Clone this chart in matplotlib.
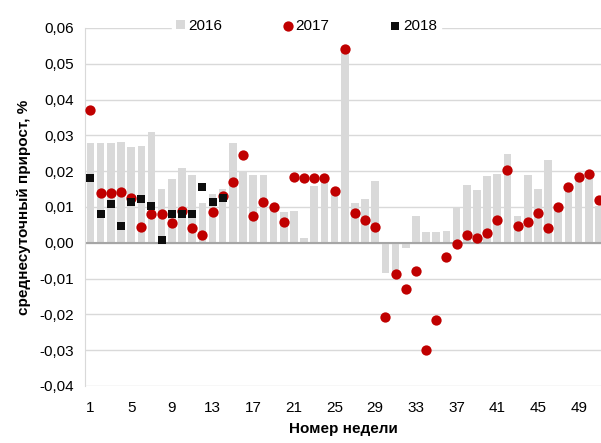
import numpy as np
import matplotlib
matplotlib.use('Agg')
import matplotlib.pyplot as plt

plt.rcParams['font.family'] = ['Liberation Sans', 'DejaVu Sans']

# Weekly average daily growth, %
weeks = np.arange(1, 52)

growth_2016 = [
    0.0280, 0.0280, 0.0280, 0.0281, 0.0267, 0.0269, 0.0309, 0.0150, 0.0179, 0.0208,
    0.0190, 0.0110, 0.0135, 0.0150, 0.0279, 0.0200, 0.0188, 0.0188, 0.0105, 0.0085,
    0.0088, 0.0012, 0.0158, 0.0170, 0.0135, 0.0535, 0.0111, 0.0121, 0.0172, -0.0084,
    -0.0084, -0.0015, 0.0074, 0.0030, 0.0029, 0.0033, 0.0099, 0.0161, 0.0147, 0.0186,
    0.0193, 0.0248, 0.0075, 0.0189, 0.0150, 0.0231, 0.0095, 0.0145, 0.0172, 0.0177,
    0.0102,
]

growth_2017 = [
    0.0370, 0.0140, 0.0138, 0.0143, 0.0125, 0.0045, 0.0081, 0.0081, 0.0055, 0.0088,
    0.0042, 0.0022, 0.0085, 0.0130, 0.0169, 0.0244, 0.0076, 0.0114, 0.0101, 0.0057,
    0.0184, 0.0182, 0.0182, 0.0181, 0.0144, 0.0541, 0.0084, 0.0064, 0.0044, -0.0208,
    -0.0088, -0.0129, -0.0079, -0.0300, -0.0215, -0.0039, -0.0003, 0.0021, 0.0014, 0.0027,
    0.0064, 0.0204, 0.0047, 0.0058, 0.0082, 0.0042, 0.0099, 0.0157, 0.0185, 0.0192,
    0.0120,
]

weeks_2018 = np.arange(1, 15)
growth_2018 = [
    0.0180, 0.0080, 0.0109, 0.0047, 0.0113, 0.0123, 0.0103, 0.0008, 0.0080, 0.0080,
    0.0081, 0.0155, 0.0115, 0.0125,
]

year_labels = ['2016', '2017', '2018']
x_ticks = list(range(1, 50, 4))
y_ticks = np.arange(-0.04, 0.0601, 0.01)

fig = plt.figure(figsize=(6.01, 4.43), dpi=100)
ax = fig.add_axes([0.1414, 0.1287, 0.8586, 0.8081])

h16 = ax.bar(weeks, growth_2016, width=0.75, color='#d9d9d9', label=year_labels[0], zorder=2)
h17 = ax.scatter(weeks, growth_2017, s=55, color='#c00000', marker='o', label=year_labels[1],
                 zorder=3, linewidths=0)
h18 = ax.scatter(weeks_2018, growth_2018, s=30, color='#0d0d0d', marker='s', label=year_labels[2],
                 zorder=4, linewidths=0)

ax.set_xlim(0.46, 51.2)
ax.set_ylim(-0.04, 0.06)
ax.set_yticks(y_ticks)
ax.set_yticklabels([f'{v:.2f}'.replace('.', ',').replace('-0,00', '0,00') for v in y_ticks])
ax.set_xticks(x_ticks)
ax.set_xticklabels([str(t) for t in x_ticks])

ax.grid(axis='y', color='#d9d9d9', linewidth=1.0, zorder=0)
ax.axhline(0, color='#a6a6a6', linewidth=1.5, zorder=2.5)
for side in ['top', 'right', 'bottom']:
    ax.spines[side].set_visible(False)
ax.spines['left'].set_color('#d9d9d9')
ax.tick_params(axis='both', length=0, labelsize=11, colors='black')
ax.tick_params(axis='x', pad=11)
ax.tick_params(axis='y', pad=8)

ax.set_xlabel('Номер недели', fontsize=11, fontweight='bold', labelpad=5)
ax.set_ylabel('среднесуточный прирост, %', fontsize=11, fontweight='bold', labelpad=6)

leg = fig.legend(handles=[h16, h17, h18], labels=year_labels,
                 loc='upper center', bbox_to_anchor=(0.51, 0.985), ncol=3, fontsize=11,
                 frameon=True, facecolor='white', edgecolor='white', framealpha=1,
                 handlelength=0.6, handleheight=0.6, handletextpad=0.2, columnspacing=4.0,
                 borderpad=0.3, fancybox=False)
leg.set_zorder(10)

fig.savefig('out.png', dpi=100)
